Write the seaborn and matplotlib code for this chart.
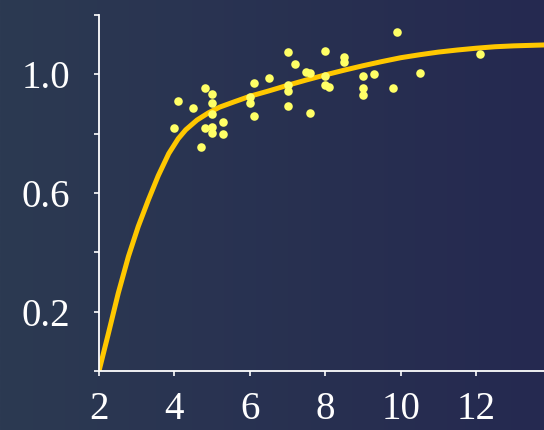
import numpy as np
import pandas as pd
import matplotlib
matplotlib.use("Agg")
import matplotlib.pyplot as plt
import seaborn as sns

obs_x = [4.0, 4.1, 4.5, 4.7, 4.8, 4.8, 5.0, 5.0, 5.0, 5.0, 5.0, 5.3, 5.3,
         6.0, 6.0, 6.1, 6.1, 6.5, 7.0, 7.0, 7.0, 7.0, 7.2, 7.5, 7.6, 7.6,
         8.0, 8.0, 8.0, 8.1, 8.5, 8.5, 9.0, 9.0, 9.0, 9.3, 9.8, 9.9, 10.5, 12.1]
obs_y = [0.82, 0.91, 0.886, 0.754, 0.955, 0.819, 0.934, 0.903, 0.867, 0.822, 0.802, 0.841, 0.798,
         0.924, 0.903, 0.971, 0.861, 0.989, 1.074, 0.965, 0.943, 0.894, 1.034, 1.007, 1.003, 0.868,
         1.079, 0.993, 0.964, 0.956, 1.06, 1.04, 0.995, 0.955, 0.931, 1.002, 0.955, 1.143, 1.004, 1.07]

# fitted curve
fit_x = [2.0, 2.25, 2.51, 2.78, 3.04, 3.31, 3.57, 3.85, 4.1, 4.3, 4.6, 4.9, 5.2, 5.6,
         6.0, 6.5, 7.0, 7.5, 8.0, 8.5, 9.0, 9.5, 10.0, 10.5, 11.0, 11.5, 12.0, 12.5, 13.0, 13.8]
fit_y = [0.0, 0.127, 0.262, 0.386, 0.487, 0.577, 0.658, 0.733, 0.783, 0.813, 0.846, 0.870, 0.8895, 0.908,
         0.926, 0.944, 0.963, 0.981, 0.998, 1.014, 1.029, 1.043, 1.056, 1.066, 1.075, 1.082, 1.088, 1.093, 1.096, 1.099]

x_ticks = [2, 4, 6, 8, 10, 12]
y_ticks = [0.0, 0.2, 0.4, 0.6, 0.8, 1.0, 1.2]
y_labels = ["", "0.2", "", "0.6", "", "1.0", ""]

sns.set_style("ticks")
plt.rcParams["font.family"] = ["Liberation Serif", "DejaVu Serif"]

fig = plt.figure(figsize=(5.44, 4.30), dpi=100)

# horizontal background gradient
bg = fig.add_axes([0, 0, 1, 1], zorder=0)
left_c = np.array([44, 58, 82]) / 255
right_c = np.array([37, 41, 80]) / 255
t = np.linspace(0, 1, 256)[None, :, None]
grad = left_c * (1 - t) + right_c * t
bg.imshow(grad, aspect="auto", extent=[0, 1, 0, 1])
bg.axis("off")

ax = fig.add_axes([99 / 544, 59 / 430, 445 / 544, 356 / 430], zorder=1)
ax.set_facecolor("none")

fit = pd.DataFrame({"x": fit_x, "y": fit_y})
obs = pd.DataFrame({"x": obs_x, "y": obs_y})
sns.lineplot(data=fit, x="x", y="y", ax=ax, color="#ffc800", linewidth=3.6, zorder=2)
sns.scatterplot(data=obs, x="x", y="y", ax=ax, color="#ffff66", s=38, linewidth=0, zorder=3)

ax.set_xlim(2, 13.8)
ax.set_ylim(0, 1.2)
ax.set_xticks(x_ticks)
ax.set_yticks(y_ticks)
ax.set_yticklabels(y_labels)
ax.set_xlabel("")
ax.set_ylabel("")

for side in ["top", "right"]:
    ax.spines[side].set_visible(False)
for side in ["left", "bottom"]:
    ax.spines[side].set_color("white")
    ax.spines[side].set_linewidth(1.3)

ax.tick_params(axis="both", colors="white", direction="out", length=3.6, width=1.2,
               labelsize=28, labelcolor="white")
ax.tick_params(axis="y", pad=17)
ax.tick_params(axis="x", pad=11)

fig.savefig("out.png", dpi=100)
